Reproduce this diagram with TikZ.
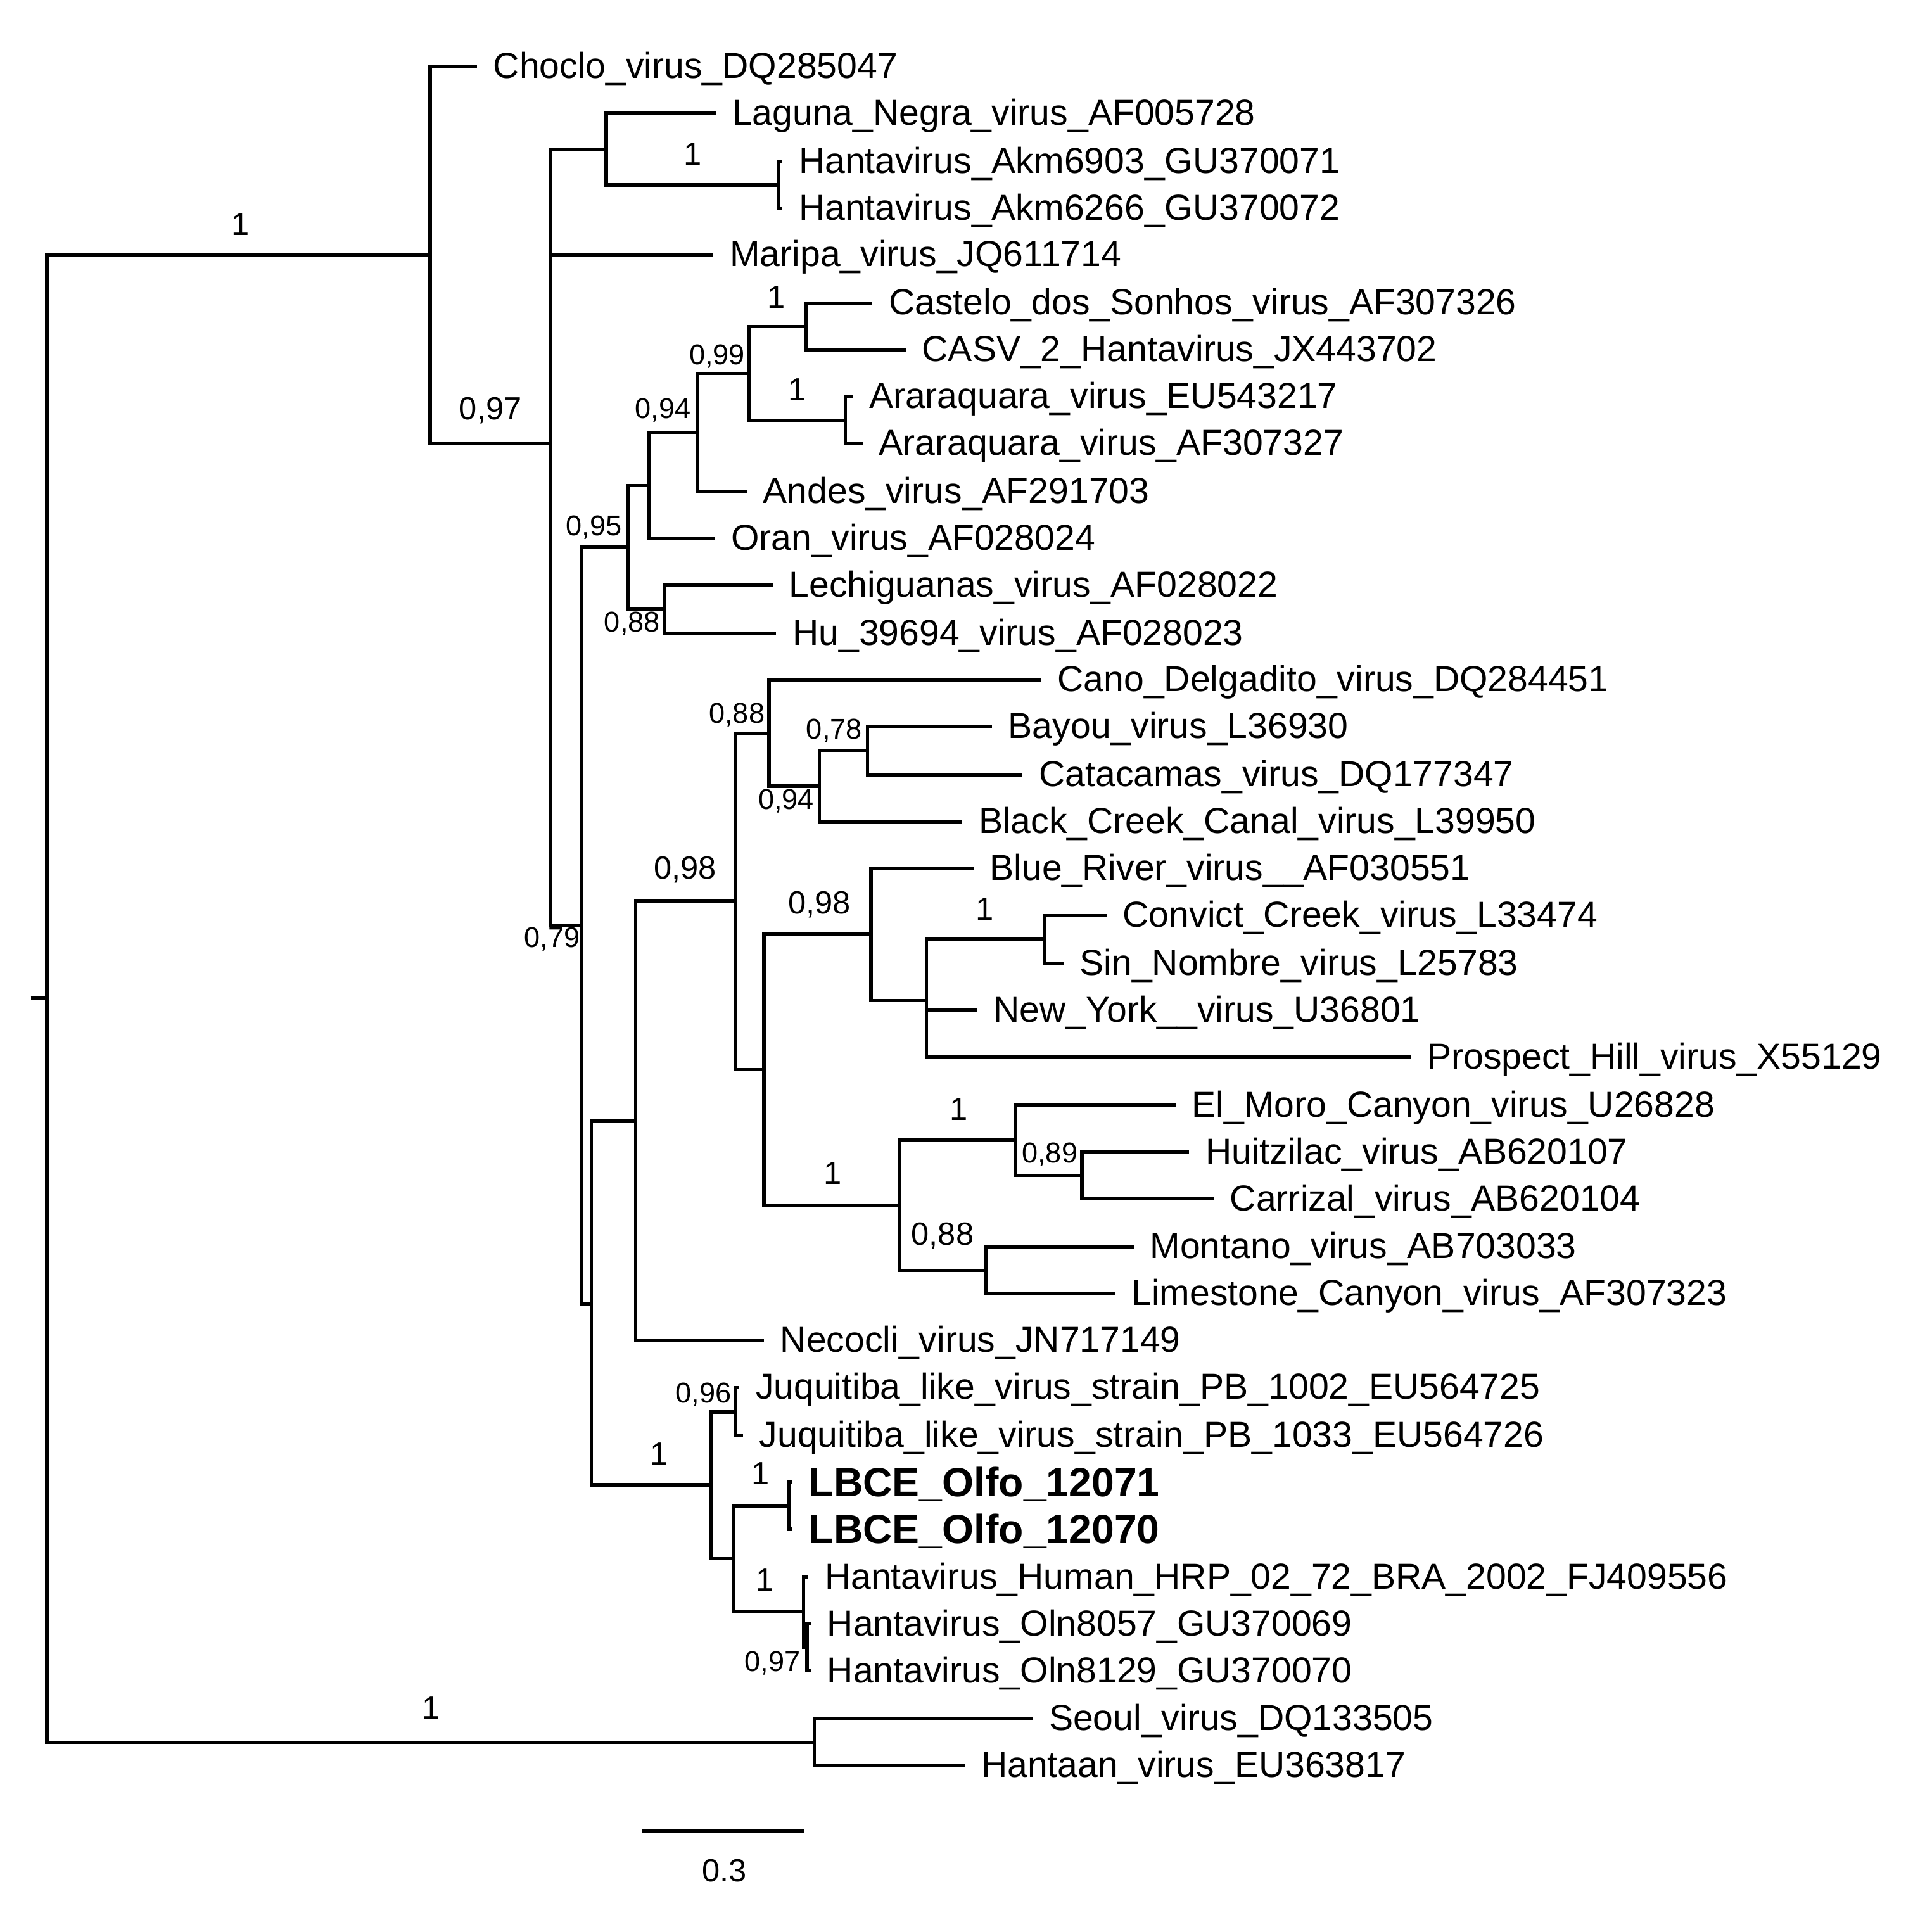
\documentclass[tikz,border=0pt]{standalone}
\usepackage{fontspec}
\setmainfont{Liberation Sans}
\usetikzlibrary{calc}
\tikzset{
%Define style for branches and labels
branch/.style={line width=0.8pt},
taxon/.style={anchor=west, inner sep=0pt, xshift=3.6pt, yshift=-0.5pt, font=\fontsize{8.35}{10}\selectfont},
new taxon/.style={taxon, font=\fontsize{9.4}{11}\selectfont\bfseries},
support/.style={inner sep=0pt, font=\fontsize{7.4}{9}\selectfont},
small support/.style={inner sep=0pt, font=\fontsize{6.6}{8}\selectfont},
}

\begin{document}
\begin{tikzpicture}[x=0.01cm, y=-0.01cm]
    \useasboundingbox (0,0) rectangle (1568,1548);

    % Internal nodes of the tree
    \path
    coordinate (rootstub) at (25,810)
    coordinate (root) at (38,810)
    coordinate (nA) at (349,207)
    coordinate (nB) at (447,360)
    coordinate (nL) at (492,121)
    coordinate (nM) at (632,150)
    coordinate (nD) at (472,751)
    coordinate (nE) at (510,444)
    coordinate (nF) at (527,394)
    coordinate (nG) at (566,351)
    coordinate (nH) at (608,303)
    coordinate (nI) at (654,265)
    coordinate (nJ) at (686,341)
    coordinate (nK) at (539,494)
    coordinate (nN) at (480,1058)
    coordinate (nP) at (516,910)
    coordinate (nQ) at (597,731)
    coordinate (nR) at (624,595)
    coordinate (nS) at (665,638)
    coordinate (nT) at (704,609)
    coordinate (nU) at (620,868)
    coordinate (nV) at (707,758)
    coordinate (nW) at (752,812)
    coordinate (nX) at (848,762)
    coordinate (nY) at (730,978)
    coordinate (nZ) at (824,925)
    coordinate (nAA) at (878,954)
    coordinate (nAB) at (800,1031)
    coordinate (nAD) at (577,1205)
    coordinate (nAE) at (597,1146)
    coordinate (nAF) at (595,1265)
    coordinate (nAG) at (640,1222)
    coordinate (nAH) at (652,1308)
    coordinate (nAI) at (655,1337)
    coordinate (nSH) at (661,1414);

    % Tips
    \path
    coordinate (choclo) at (387,54)
    coordinate (laguna) at (581,92)
    coordinate (akmA) at (635,131)
    coordinate (akmB) at (635,169)
    coordinate (maripa) at (579,207)
    coordinate (castelo) at (708,246)
    coordinate (casv) at (735,284)
    coordinate (ararA) at (692,322)
    coordinate (ararB) at (700,360)
    coordinate (andes) at (606,399)
    coordinate (oran) at (580,437)
    coordinate (lechig) at (627,475)
    coordinate (hu) at (630,514)
    coordinate (cano) at (845,552)
    coordinate (bayou) at (805,590)
    coordinate (catac) at (830,629)
    coordinate (black) at (781,667)
    coordinate (blue) at (790,705)
    coordinate (convict) at (898,743)
    coordinate (sinn) at (863,782)
    coordinate (newyork) at (793,820)
    coordinate (prospect) at (1145,858)
    coordinate (elmoro) at (954,897)
    coordinate (huitz) at (965,935)
    coordinate (carrizal) at (985,973)
    coordinate (montano) at (920,1012)
    coordinate (limestone) at (905,1050)
    coordinate (necocli) at (620,1088)
    coordinate (juqA) at (600,1126)
    coordinate (juqB) at (603,1165)
    coordinate (lbceA) at (643,1203)
    coordinate (lbceB) at (643,1241)
    coordinate (hrp) at (656,1280)
    coordinate (olnA) at (658,1318)
    coordinate (olnB) at (658,1356)
    coordinate (seoul) at (838,1395)
    coordinate (hantaan) at (783,1433);

    % Branches
    \draw[branch] (rootstub) -- (root) (root) |- (nA) (root) |- (nSH);
    \draw[branch] (nA) |- (choclo) (nA) |- (nB);
    \draw[branch] (nB) |- (nL) (nB) |- (maripa) (nB) |- (nD);
    \draw[branch] (nL) |- (laguna) (nL) |- (nM) (nM) |- (akmA) (nM) |- (akmB);
    \draw[branch] (nD) |- (nE) (nD) |- (nN);
    \draw[branch] (nE) |- (nF) (nE) |- (nK) (nK) |- (lechig) (nK) |- (hu);
    \draw[branch] (nF) |- (nG) (nF) |- (oran) (nG) |- (nH) (nG) |- (andes);
    \draw[branch] (nH) |- (nI) (nH) |- (nJ);
    \draw[branch] (nI) |- (castelo) (nI) |- (casv) (nJ) |- (ararA) (nJ) |- (ararB);
    \draw[branch] (nN) |- (nP) (nN) |- (nAD);
    \draw[branch] (nP) |- (nQ) (nP) |- (necocli) (nQ) |- (nR) (nQ) |- (nU);
    \draw[branch] (nR) |- (cano) (nR) |- (nS) (nS) |- (nT) (nS) |- (black);
    \draw[branch] (nT) |- (bayou) (nT) |- (catac);
    \draw[branch] (nU) |- (nV) (nU) |- (nY) (nV) |- (blue) (nV) |- (nW);
    \draw[branch] (nW) |- (nX) (nW) |- (newyork) (nW) |- (prospect);
    \draw[branch] (nX) |- (convict) (nX) |- (sinn);
    \draw[branch] (nY) |- (nZ) (nY) |- (nAB) (nZ) |- (elmoro) (nZ) |- (nAA);
    \draw[branch] (nAA) |- (huitz) (nAA) |- (carrizal);
    \draw[branch] (nAB) |- (montano) (nAB) |- (limestone);
    \draw[branch] (nAD) |- (nAE) (nAD) |- (nAF) (nAE) |- (juqA) (nAE) |- (juqB);
    \draw[branch] (nAF) |- (nAG) (nAF) |- (nAH) (nAG) |- (lbceA) (nAG) |- (lbceB);
    \draw[branch] (nAH) |- (hrp) (nAH) |- (nAI) (nAI) |- (olnA) (nAI) |- (olnB);
    \draw[branch] (nSH) |- (seoul) (nSH) |- (hantaan);

    % Taxon names
    \node[taxon] (t-choclo) at (choclo) {Choclo\_virus\_DQ285047};
    \node[taxon] (t-laguna) at (laguna) {Laguna\_Negra\_virus\_AF005728};
    \node[taxon] (t-akmA) at (akmA) {Hantavirus\_Akm6903\_GU370071};
    \node[taxon] (t-akmB) at (akmB) {Hantavirus\_Akm6266\_GU370072};
    \node[taxon] (t-maripa) at (maripa) {Maripa\_virus\_JQ611714};
    \node[taxon] (t-castelo) at (castelo) {Castelo\_dos\_Sonhos\_virus\_AF307326};
    \node[taxon] (t-casv) at (casv) {CASV\_2\_Hantavirus\_JX443702};
    \node[taxon] (t-ararA) at (ararA) {Araraquara\_virus\_EU543217};
    \node[taxon] (t-ararB) at (ararB) {Araraquara\_virus\_AF307327};
    \node[taxon] (t-andes) at (andes) {Andes\_virus\_AF291703};
    \node[taxon] (t-oran) at (oran) {Oran\_virus\_AF028024};
    \node[taxon] (t-lechig) at (lechig) {Lechiguanas\_virus\_AF028022};
    \node[taxon] (t-hu) at (hu) {Hu\_39694\_virus\_AF028023};
    \node[taxon] (t-cano) at (cano) {Cano\_Delgadito\_virus\_DQ284451};
    \node[taxon] (t-bayou) at (bayou) {Bayou\_virus\_L36930};
    \node[taxon] (t-catac) at (catac) {Catacamas\_virus\_DQ177347};
    \node[taxon] (t-black) at (black) {Black\_Creek\_Canal\_virus\_L39950};
    \node[taxon] (t-blue) at (blue) {Blue\_River\_virus\_\_AF030551};
    \node[taxon] (t-convict) at (convict) {Convict\_Creek\_virus\_L33474};
    \node[taxon] (t-sinn) at (sinn) {Sin\_Nombre\_virus\_L25783};
    \node[taxon] (t-newyork) at (newyork) {New\_York\_\_virus\_U36801};
    \node[taxon] (t-prospect) at (prospect) {Prospect\_Hill\_virus\_X55129};
    \node[taxon] (t-elmoro) at (elmoro) {El\_Moro\_Canyon\_virus\_U26828};
    \node[taxon] (t-huitz) at (huitz) {Huitzilac\_virus\_AB620107};
    \node[taxon] (t-carrizal) at (carrizal) {Carrizal\_virus\_AB620104};
    \node[taxon] (t-montano) at (montano) {Montano\_virus\_AB703033};
    \node[taxon] (t-limestone) at (limestone) {Limestone\_Canyon\_virus\_AF307323};
    \node[taxon] (t-necocli) at (necocli) {Necocli\_virus\_JN717149};
    \node[taxon] (t-juqA) at (juqA) {Juquitiba\_like\_virus\_strain\_PB\_1002\_EU564725};
    \node[taxon] (t-juqB) at (juqB) {Juquitiba\_like\_virus\_strain\_PB\_1033\_EU564726};
    \node[new taxon] (t-lbceA) at (lbceA) {LBCE\_Olfo\_12071};
    \node[new taxon] (t-lbceB) at (lbceB) {LBCE\_Olfo\_12070};
    \node[taxon] (t-hrp) at (hrp) {Hantavirus\_Human\_HRP\_02\_72\_BRA\_2002\_FJ409556};
    \node[taxon] (t-olnA) at (olnA) {Hantavirus\_Oln8057\_GU370069};
    \node[taxon] (t-olnB) at (olnB) {Hantavirus\_Oln8129\_GU370070};
    \node[taxon] (t-seoul) at (seoul) {Seoul\_virus\_DQ133505};
    \node[taxon] (t-hantaan) at (hantaan) {Hantaan\_virus\_EU363817};

    % Posterior probabilities
    \node[support] (pA) at (195,182) {1};
    \node[support] (pB) at (398,333) {0,97};
    \node[support] (pM) at (562,125) {1};
    \node[support] (pI) at (630,241) {1};
    \node[small support] (pH) at (582,289) {0,99};
    \node[support] (pJ) at (647,316) {1};
    \node[small support] (pG) at (538,333) {0,94};
    \node[small support] (pE) at (482,428) {0,95};
    \node[small support] (pK) at (513,506) {0,88};
    \node[small support] (pD) at (448,762) {0,79};
    \node[small support] (pR) at (598,580) {0,88};
    \node[small support] (pT) at (677,593) {0,78};
    \node[small support] (pS) at (638,650) {0,94};
    \node[support] (pQ) at (556,706) {0,98};
    \node[support] (pV) at (665,734) {0,98};
    \node[support] (pX) at (799,738) {1};
    \node[support] (pZ) at (778,900) {1};
    \node[small support] (pAA) at (852,937) {0,89};
    \node[support] (pY) at (676,952) {1};
    \node[support] (pAB) at (765,1003) {0,88};
    \node[small support] (pAE) at (571,1132) {0,96};
    \node[support] (pAD) at (535,1180) {1};
    \node[support] (pAG) at (617,1196) {1};
    \node[support] (pAH) at (621,1282) {1};
    \node[small support] (pAI) at (627,1350) {0,97};
    \node[support] (pSH) at (350,1386) {1};

    % Scale bar
    \coordinate (bar0) at (521,1486);
    \coordinate (bar1) at (653,1486);
    \draw[branch] (bar0) -- (bar1);
    \node[support] (barlabel) at (588,1518) {0.3};
\end{tikzpicture}
\end{document}
